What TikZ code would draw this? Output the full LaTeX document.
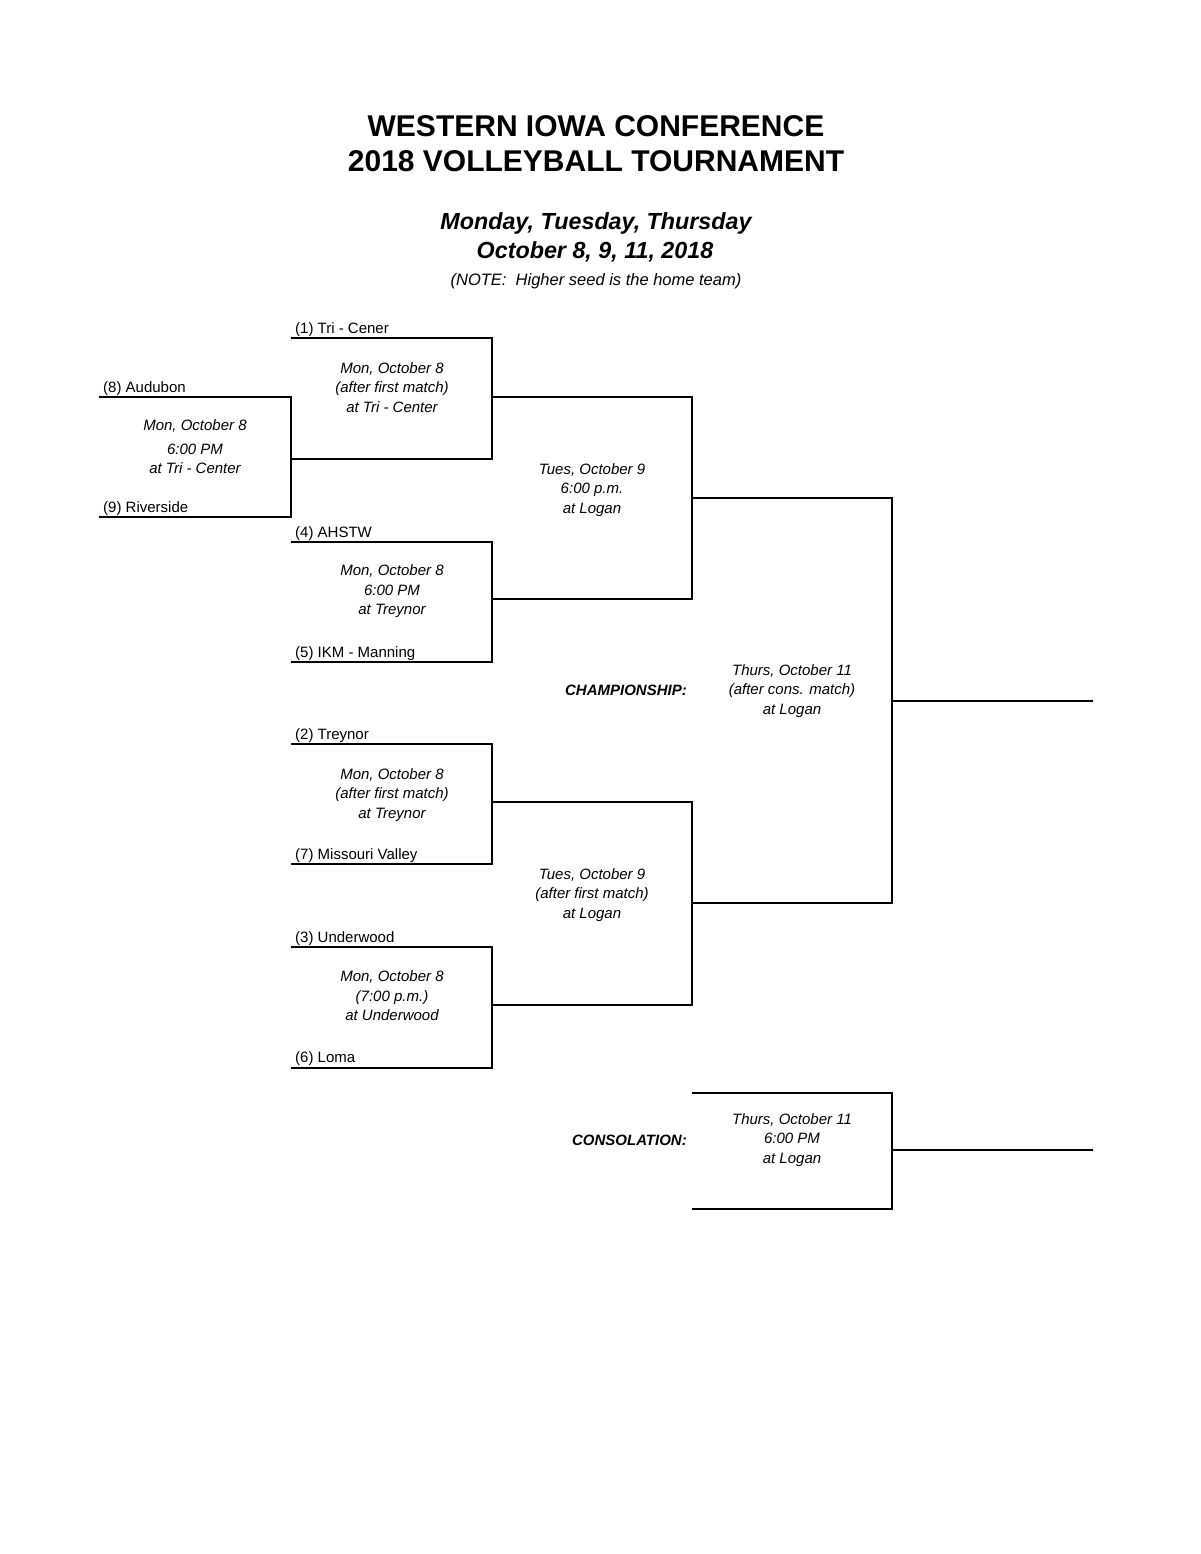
\documentclass[tikz,border=0pt]{standalone}
\usepackage{fontspec}
\setmainfont{Liberation Sans}
\newcommand\gametext[1]{\begin{tabular}[t]{@{}c@{}}#1\end{tabular}}
\begin{document}
\begin{tikzpicture}[x=1pt,y=-1pt,
  thickline/.style={line width=1.8pt, line join=miter},
  thinline/.style={line width=1.3pt, line join=miter},
  team/.style={anchor=base west, inner sep=0pt, font=\fontsize{15}{18}\selectfont},
  game/.style={anchor=base, inner sep=0pt, font=\fontsize{15}{19.5}\selectfont\itshape},
  roundlabel/.style={anchor=base east, inner sep=0pt, font=\fontsize{15}{18}\selectfont\bfseries\itshape},
  titletext/.style={anchor=base, inner sep=0pt, font=\fontsize{30}{36}\selectfont\bfseries},
  subtitle/.style={anchor=base, inner sep=0pt, font=\fontsize{23.3}{28}\selectfont\bfseries\itshape},
  notetext/.style={anchor=base, inner sep=0pt, font=\fontsize{16.5}{20}\selectfont\itshape},
]
\fill[white] (0,0) rectangle (1200,1554);
\path[use as bounding box] (0,0) rectangle (1200,1554);

% ---------- titles ----------
\node[titletext] (t1) at (596,136.7) {WESTERN IOWA CONFERENCE};
\node[titletext] (t2) at (596,171.7) {2018 VOLLEYBALL TOURNAMENT};
\node[subtitle] (s1) at (596,229.5) {Monday, Tuesday, Thursday};
\node[subtitle] (s2) at (595,258.5) {October 8, 9, 11, 2018};
\node[notetext] (nt) at (596,285.5) {(NOTE:\ \ Higher seed is the home team)};

% ---------- bracket coordinates ----------
% play-in
\coordinate (au-l) at (99,397);  \coordinate (au-r) at (291,397);
\coordinate (ri-l) at (99,517);  \coordinate (ri-r) at (291,517);
% first round
\coordinate (tc-l) at (291,338);  \coordinate (tc-r) at (492,338);
\coordinate (pw-l) at (291,459);  \coordinate (pw-r) at (492,459);
\coordinate (ah-l) at (291,542);  \coordinate (ah-r) at (492,542);
\coordinate (ik-l) at (291,662);  \coordinate (ik-r) at (492,662);
\coordinate (tr-l) at (291,744);  \coordinate (tr-r) at (492,744);
\coordinate (mv-l) at (291,864);  \coordinate (mv-r) at (492,864);
\coordinate (un-l) at (291,947);  \coordinate (un-r) at (492,947);
\coordinate (lo-l) at (291,1068); \coordinate (lo-r) at (492,1068);
% semifinals
\coordinate (w1-l) at (492,397);  \coordinate (w1-r) at (692,397);
\coordinate (w2-l) at (492,599);  \coordinate (w2-r) at (692,599);
\coordinate (w3-l) at (492,802);  \coordinate (w3-r) at (692,802);
\coordinate (w4-l) at (492,1005); \coordinate (w4-r) at (692,1005);
% final
\coordinate (f1-l) at (692,498);  \coordinate (f1-r) at (892,498);
\coordinate (f2-l) at (692,903);  \coordinate (f2-r) at (892,903);
\coordinate (ch-l) at (892,701);  \coordinate (ch-r) at (1093,701);
% consolation
\coordinate (c1-l) at (692,1093); \coordinate (c1-r) at (892,1093);
\coordinate (c2-l) at (692,1209); \coordinate (c2-r) at (892,1209);
\coordinate (co-l) at (892,1150); \coordinate (co-r) at (1093,1150);

% ---------- bracket lines ----------
\draw[thickline] (au-l) -- (au-r) -- (ri-r) -- (ri-l);
\draw[thickline] (tc-l) -- (tc-r) -- (pw-r) -- (pw-l);
\draw[thickline] (ah-l) -- (ah-r) -- (ik-r) -- (ik-l);
\draw[thickline] (tr-l) -- (tr-r) -- (mv-r) -- (mv-l);
\draw[thickline] (un-l) -- (un-r) -- (lo-r) -- (lo-l);
\draw[thickline] (w1-l) -- (w1-r) -- (w2-r) -- (w2-l);
\draw[thickline] (w3-l) -- (w3-r) -- (w4-r) -- (w4-l);
\draw[thinline] (f1-l) -- (f1-r) -- (f2-r) -- (f2-l);
\draw[thickline] (ch-l) -- (ch-r);
\draw[thickline] (c1-l) -- (c1-r) -- (c2-r) -- (c2-l);
\draw[thickline] (co-l) -- (co-r);

% ---------- team names ----------
\node[team] (n1) at (295,333) {(1) Tri - Cener};
\node[team] (n8) at (103,392) {(8) Audubon};
\node[team] (n9) at (103,512) {(9) Riverside};
\node[team] (n4) at (295,537) {(4) AHSTW};
\node[team] (n5) at (295,657) {(5) IKM - Manning};
\node[team] (n2) at (295,739) {(2) Treynor};
\node[team] (n7) at (295,859) {(7) Missouri Valley};
\node[team] (n3) at (295,942) {(3) Underwood};
\node[team] (n6) at (295,1062.5) {(6) Loma};

% ---------- game information ----------
\node[game] (g0) at (195,430.7) {\gametext{Mon, October 8\\[3.8pt]6:00 PM\\at Tri - Center}};
\node[game] (g1) at (392,373) {\gametext{Mon, October 8\\(after first match)\\at Tri - Center}};
\node[game] (g2) at (392,575.5) {\gametext{Mon, October 8\\6:00 PM\\at Treynor}};
\node[game] (g3) at (392,779.3) {\gametext{Mon, October 8\\(after first match)\\at Treynor}};
\node[game] (g4) at (392,981.7) {\gametext{Mon, October 8\\(7:00 p.m.)\\at Underwood}};
\node[game] (g5) at (592,474) {\gametext{Tues, October 9\\6:00 p.m.\\at Logan}};
\node[game] (g6) at (592,879.3) {\gametext{Tues, October 9\\(after first match)\\at Logan}};
\node[game] (g7) at (792,675) {\gametext{Thurs, October 11\\(after cons. match)\\at Logan}};
\node[game] (g8) at (792,1124.3) {\gametext{Thurs, October 11\\6:00 PM\\at Logan}};

\node[roundlabel] (rc) at (687,695.5) {CHAMPIONSHIP:};
\node[roundlabel] (rs) at (687,1145) {CONSOLATION:};
\end{tikzpicture}
\end{document}
